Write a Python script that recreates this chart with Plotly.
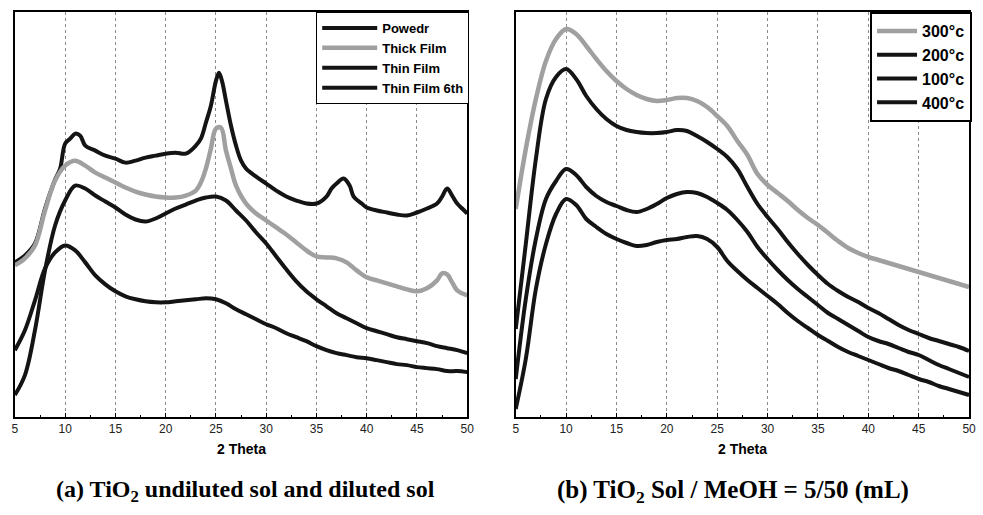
import plotly.graph_objects as go

# ---------------- Panel (a) data ----------------
theta_powder = [5, 6, 7, 8, 9, 9.5, 10, 10.5, 11, 11.5, 12, 13, 14, 15, 16, 17, 18, 19, 20, 21, 22,
                23, 23.5, 24, 24.5, 25, 25.3, 25.6, 26, 26.5, 27, 27.5, 28, 29, 30, 31, 32, 33, 34, 35, 36,
                36.5, 37, 37.7, 38.3, 38.7, 39.5, 40, 41, 42, 43, 44, 45, 46, 47, 47.5, 48, 48.5, 49, 49.5, 50]
powder = [155, 162, 174, 209, 238, 249, 274, 279, 284, 282, 272, 267, 262, 259, 255, 257, 260, 262, 264, 265, 264,
          272, 279, 295, 312, 337, 345, 337, 317, 292, 272, 257, 249, 241, 234, 227, 221, 217, 214, 214, 221,
          229, 234, 239, 232, 221, 214, 210, 207, 205, 203, 202, 205, 209, 214, 221, 229, 222, 214, 209, 204]

theta_thick = [5, 6, 7, 8, 9, 10, 11, 12, 13, 14, 15, 16, 17, 18, 19, 20, 21, 22, 23,
               23.5, 24, 24.5, 25, 25.5, 26, 26.5, 27,
               28, 29, 30, 31, 32, 33, 34, 35, 36, 37, 38, 39, 40, 41, 42, 43, 44, 45, 46, 47,
               47.5, 48, 48.5, 49, 50]
thick_film = [152, 159, 172, 207, 237, 252, 257, 252, 245, 240, 235, 230, 226, 223, 221, 220, 220, 222, 227,
              235, 249, 269, 289, 290, 267, 249, 232,
              214, 204, 197, 190, 183, 175, 167, 161, 160, 159, 155, 147, 140, 137, 134, 131, 128, 126, 129, 137,
              144, 143, 135, 127, 122]

theta_int = list(range(5, 51))
thin_film = [22, 42, 87, 147, 192, 217, 232, 229, 222, 216, 210, 203, 198, 196, 199, 204, 209, 213, 217, 220,
             221, 217, 207, 197, 185, 174, 161, 148, 136, 126, 118, 111, 104, 99, 94, 89, 86, 83, 80, 78,
             76, 74, 71, 69, 67, 64]
thin_film_6th = [67, 87, 117, 149, 165, 172, 167, 155, 142, 133, 126, 121, 118, 116, 115, 115, 116, 117, 118, 119,
                 118, 114, 108, 103, 98, 93, 89, 84, 80, 76, 71, 67, 64, 62, 60, 59, 57, 55, 53, 52,
                 50, 49, 48, 46, 46, 45]

# ---------------- Panel (b) data ----------------
t300 = [208, 268, 318, 356, 378, 388, 383, 371, 358, 346, 336, 328, 322, 318, 316, 317, 319, 319, 316, 310,
        301, 291, 276, 262, 243, 232, 224, 216, 207, 199, 192, 184, 176, 169, 164, 160, 157, 154, 151, 148,
        145, 142, 139, 136, 133, 130]
t200 = [88, 173, 258, 318, 340, 348, 338, 321, 308, 298, 291, 287, 285, 284, 284, 285, 287, 286, 281, 275,
        268, 260, 248, 230, 213, 200, 188, 175, 163, 152, 142, 133, 126, 120, 115, 109, 104, 98, 92, 87,
        83, 79, 76, 73, 70, 66]
t100 = [38, 118, 178, 218, 236, 248, 242, 230, 221, 215, 211, 207, 205, 208, 213, 219, 223, 225, 224, 220,
        214, 207, 197, 185, 170, 158, 147, 137, 128, 120, 112, 104, 98, 92, 86, 80, 76, 73, 69, 65,
        62, 57, 52, 48, 44, 40]
t400 = [8, 58, 128, 173, 203, 218, 212, 198, 190, 183, 178, 174, 171, 172, 175, 177, 178, 180, 181, 178,
        170, 156, 146, 137, 129, 121, 113, 104, 96, 89, 82, 76, 70, 65, 61, 57, 53, 49, 46, 42,
        38, 35, 31, 28, 25, 22]

tick_vals = [5, 10, 15, 20, 25, 30, 35, 40, 45, 50]
tick_text = ["5", "10", "15", "20", "25", "30", "35", "40", "45", "50"]

W, H = 983, 515
BLACK = "#141414"
GRAY = "#a0a0a0"
SANS = "Liberation Sans Narrow, Arial Narrow, Arial"

fig = go.Figure()

# panel (a)
fig.add_trace(go.Scatter(x=theta_powder, y=powder, name="Powedr", mode="lines",
                         line=dict(color=BLACK, width=4, shape="spline"), xaxis="x", yaxis="y", legend="legend"))
fig.add_trace(go.Scatter(x=theta_thick, y=thick_film, name="Thick Film", mode="lines",
                         line=dict(color=GRAY, width=4.5, shape="spline"), xaxis="x", yaxis="y", legend="legend"))
fig.add_trace(go.Scatter(x=theta_int, y=thin_film, name="Thin Film", mode="lines",
                         line=dict(color=BLACK, width=4, shape="spline"), xaxis="x", yaxis="y", legend="legend"))
fig.add_trace(go.Scatter(x=theta_int, y=thin_film_6th, name="Thin Film 6th", mode="lines",
                         line=dict(color=BLACK, width=4, shape="spline"), xaxis="x", yaxis="y", legend="legend"))

# panel (b)
for name, vals, col, w in [("300°c", t300, GRAY, 4.5), ("200°c", t200, BLACK, 4),
                           ("100°c", t100, BLACK, 4), ("400°c", t400, BLACK, 4)]:
    fig.add_trace(go.Scatter(x=theta_int, y=vals, name=name, mode="lines",
                             line=dict(color=col, width=w, shape="spline"),
                             xaxis="x2", yaxis="y2", legend="legend2"))

ydom = [1 - 417 / H, 1 - 12 / H]
xaxis_common = dict(range=[5, 50], tickvals=tick_vals, ticktext=tick_text, showline=True, mirror=True,
                    linecolor="black", linewidth=2, ticks="inside", ticklen=4, tickcolor="black",
                    showgrid=True, gridcolor="#8a8a8a", griddash="dot", gridwidth=1, zeroline=False,
                    tickfont=dict(family=SANS, size=12, color="#222"),
                    minor=dict(ticks="inside", ticklen=2, dtick=2.5, tickcolor="black", showgrid=False))
yaxis_common = dict(showline=True, mirror=True, linecolor="black", linewidth=2, showticklabels=False,
                    ticks="", showgrid=False, zeroline=False)

fig.update_layout(
    width=W, height=H, margin=dict(l=0, r=0, t=0, b=0),
    paper_bgcolor="white", plot_bgcolor="white",
    xaxis=dict(domain=[12 / W, 469 / W], anchor="y", **xaxis_common),
    yaxis=dict(domain=ydom, range=[0, 406], anchor="x", **yaxis_common),
    xaxis2=dict(domain=[518 / W, 976 / W], anchor="y2", **xaxis_common),
    yaxis2=dict(domain=ydom, range=[0, 405], anchor="x2", **yaxis_common),
    legend=dict(x=471 / W, xanchor="right", y=1 - 12 / H, yanchor="top",
                bgcolor="white", bordercolor="black", borderwidth=1,
                font=dict(family=SANS, size=13, color="black", weight="bold"),
                tracegroupgap=0, itemwidth=55),
    legend2=dict(x=979 / W, xanchor="right", y=1 - 12 / H, yanchor="top",
                 bgcolor="white", bordercolor="black", borderwidth=2,
                 font=dict(family=SANS, size=16, color="black", weight="bold"),
                 tracegroupgap=0, itemwidth=40),
    showlegend=True,
)

annotations = [
    dict(text="<b>2 Theta</b>", x=240.5 / W, y=1 - 449 / H, xref="paper", yref="paper", showarrow=False,
         xanchor="center", yanchor="middle", font=dict(family=SANS, size=14, color="black")),
    dict(text="<b>2 Theta</b>", x=747 / W, y=1 - 449 / H, xref="paper", yref="paper", showarrow=False,
         xanchor="center", yanchor="middle", font=dict(family=SANS, size=14, color="black")),
    dict(text="<b>(a) TiO<sub>2</sub> undiluted sol and diluted sol</b>", x=245 / W, y=1 - 491 / H,
         xref="paper", yref="paper", showarrow=False, xanchor="center", yanchor="middle",
         font=dict(family="Liberation Serif, Times New Roman, serif", size=24, color="black")),
    dict(text="<b>(b) TiO<sub>2</sub> Sol / MeOH = 5/50 (mL)</b>", x=737 / W, y=1 - 491 / H,
         xref="paper", yref="paper", showarrow=False, xanchor="center", yanchor="middle",
         font=dict(family="Liberation Serif, Times New Roman, serif", size=25, color="black")),
]
fig.update_layout(annotations=annotations)

fig.write_html("out.html")
